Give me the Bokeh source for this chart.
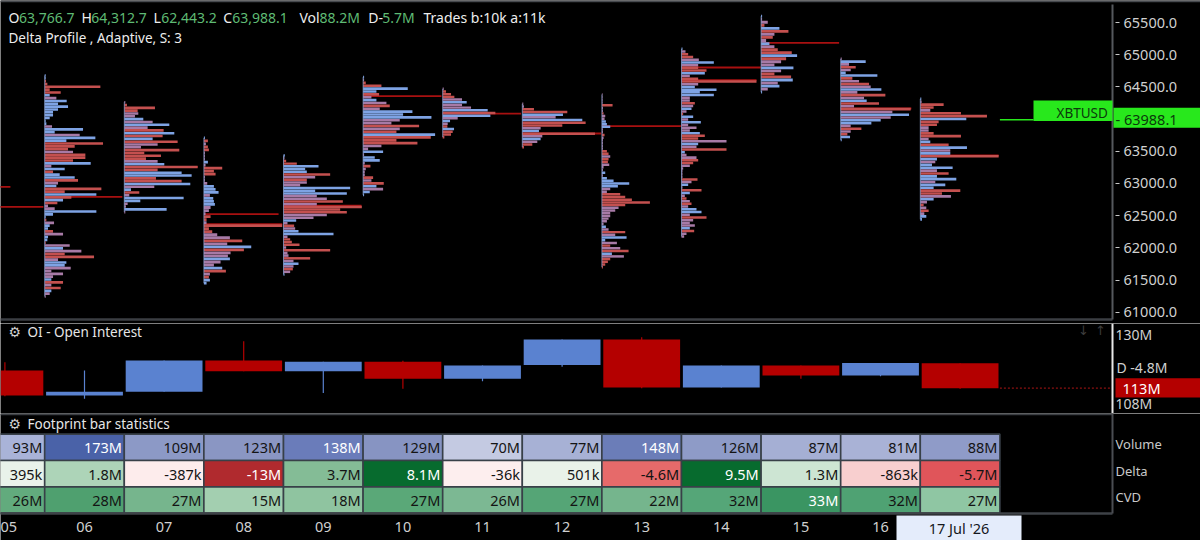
from bokeh.embed import file_html
from bokeh.resources import INLINE
from bokeh.layouts import column
from bokeh.models import (BoxAnnotation, ColumnDataSource, FixedTicker, Label, LinearAxis,
                          NumeralTickFormatter, Range1d)
from bokeh.plotting import figure
from bokeh.core.properties import value

FONT = "Noto Sans"
BG = "#000000"
PANE = "#3b3e43"
RED_S, BLUE_S, MIX_S = "#c4504f", "#7ea3e4", "#a77aa6"
OI_RED, OI_BLUE = "#b40000", "#5a82d0"
POC = "#a81010"
GREEN = "#28e81c"

# ---------- data ----------
days = [5, 6, 7, 8, 9, 10, 11, 12, 13, 14, 15, 16, 17]
day_labels = {5: "05", 6: "06", 7: "07", 8: "08", 9: "09", 10: "10", 11: "11", 12: "12",
              13: "13", 14: "14", 15: "15", 16: "16"}
price_ticks = [61000, 61500, 62000, 62500, 63000, 63500, 64500, 65000, 65500]
last_price = 63988.1

# Per-session profile: high, low, volume per price row (top to bottom), side of each row
high_06, low_06 = 64677, 61244
vol_06 = [3, 3, 4, 8, 167, 15, 48, 15, 35, 66, 40, 70, 40, 25, 25, 15, 3, 5, 22, 115, 30, 105, 152, 65, 175, 90,
          70, 85, 122, 122, 85, 138, 20, 60, 25, 45, 90, 100, 40, 35, 170, 60, 155, 80, 55, 38, 10, 30, 155, 25,
          3, 5, 28, 15, 10, 25, 55, 10, 8, 3, 75, 55, 110, 60, 148, 40, 65, 60, 78, 20, 55, 25, 20, 55, 20, 48, 20, 15, 3]
side_06 = "BBSSSSSBMBBBBBBBBBMBBMBBSSSMSSSBMBSBBSMBSSBSBSMMBBBSMBBSMBBSMBMSSMBBMMMMBSMSB"
high_07, low_07 = 64262, 62554
vol_07 = [3, 8, 92, 40, 42, 32, 57, 85, 135, 70, 118, 150, 115, 85, 160, 100, 50, 165, 60, 110, 65, 100, 120, 220,
          100, 172, 202, 95, 172, 198, 90, 20, 45, 15, 178, 48, 10, 5, 127, 3]
side_07 = "MSSSMMBMBMSBSBSMMSSSSMBSSBBSSBMBSMBBMMBM"
high_08, low_08 = 63708, 61451
vol_08 = [3, 12, 6, 12, 15, 3, 3, 3, 12, 5, 55, 30, 35, 3, 3, 10, 30, 35, 44, 18, 28, 30, 33, 20, 15, 5, 20, 8, 8, 235,
          15, 25, 40, 78, 115, 70, 142, 120, 80, 72, 78, 50, 30, 55, 66, 18, 15, 18, 8]
side_08 = "BSMSSMMMBMSSSMMMBBBMBBBMMMSSMSSSMMSMBSMMBMMBSMSBB"
high_09, low_09 = 63434, 61585
vol_09 = [4, 3, 8, 40, 105, 65, 70, 140, 95, 70, 70, 50, 200, 95, 190, 100, 130, 178, 100, 235, 170, 190, 130, 90, 38, 12,
          32, 35, 45, 150, 12, 20, 25, 48, 8, 140, 12, 15, 80, 30, 45, 30, 28, 20, 3]
side_09 = "BMSSBBBSMSMMBBBMMSMSSSMMBMSMBBMSSSMSMMSMBMSMB"
high_10, low_10 = 64651, 62823
vol_10 = [3, 3, 8, 55, 134, 40, 48, 25, 40, 70, 80, 50, 148, 120, 205, 110, 85, 168, 110, 100, 216, 203, 100, 163, 55,
          15, 60, 3, 35, 50, 5, 22, 8, 5, 5, 30, 25, 62, 40, 60, 20, 3]
side_10 = "BMSSBBSMBMSMBBBMMSMSBSSSMMBMBBMSMMMSMSBMBB"
high_11, low_11 = 64470, 63719
vol_11 = [3, 10, 25, 35, 58, 72, 58, 85, 135, 158, 143, 45, 22, 15, 14, 34, 30, 25, 5]
side_11 = "MSSSMBMMBSBMBMSBSSS"
high_12, low_12 = 64237, 63563
vol_12 = [3, 5, 35, 135, 122, 100, 180, 190, 120, 55, 50, 218, 60, 55, 45, 30, 5]
side_12 = "MMSSBMBSSMBSMBMSS"
high_13, low_13 = 64382, 61699
vol_13 = [2, 2, 2, 2, 32, 3, 3, 5, 10, 8, 12, 15, 25, 3, 3, 8, 5, 3, 3, 3, 3, 15, 20, 25, 20, 18, 22, 5, 3, 10, 3, 15, 35,
          82, 48, 25, 15, 55, 70, 90, 144, 70, 50, 40, 25, 25, 20, 15, 5, 12, 20, 70, 40, 74, 10, 45, 25, 55, 80, 30, 66, 25, 18, 10, 3]
side_13 = "MMMMSMMSMMBBBMMSMMMMMSSMSSMMMBMBBBBMMSSSSSMMMMMMMBMSMBBMSMSBMSSSS"
high_14, low_14 = 65091, 62176
vol_14 = [3, 12, 20, 35, 52, 97, 50, 50, 75, 70, 25, 50, 225, 50, 40, 105, 55, 97, 25, 25, 40, 35, 30, 15, 5, 35, 20, 58, 20,
          45, 25, 55, 70, 50, 135, 50, 45, 135, 10, 15, 45, 50, 35, 25, 5, 3, 3, 3, 48, 30, 20, 3, 60, 25, 10, 15, 25, 30, 20, 45, 60,
          25, 75, 35, 25, 40, 25, 38, 15, 8]
side_14 = "BMSSMBMSSBMSSMBBBBMMSMBMSBMBMMMBSSMBMSBMMSSMMMMMSMBMSBMSMSMBBMSMMMBSMM"
high_15, low_15 = 65598, 64418
vol_15 = [3, 3, 20, 10, 55, 82, 40, 35, 15, 25, 40, 50, 92, 108, 75, 60, 40, 97, 60, 40, 90, 95, 50, 55, 20, 3]
side_15 = "BMMSBSMSMBMSSBSMMBMSSBMBMB"
high_16, low_16 = 64936, 63677
vol_16 = [3, 75, 25, 45, 30, 15, 110, 35, 55, 85, 90, 122, 50, 134, 70, 78, 115, 40, 210, 155, 205, 150, 120, 92, 30, 62, 30,
          20, 28, 3]
side_16 = "MBMSMBBSMSMBMSMBSMSMBMBBMSMSBB"
high_17, low_17 = 64313, 62443
vol_17 = [3, 4, 70, 40, 30, 122, 200, 138, 55, 50, 25, 25, 40, 122, 25, 30, 85, 140, 90, 90, 235, 50, 45, 35, 97, 50, 85, 50,
          108, 45, 75, 40, 120, 65, 92, 40, 20, 10, 18, 25, 12, 18, 5]
side_17 = "BMSSMSSBSSMMSSMBSBMBSBMBBMSBBMBBSSMBMSMSMBB"

# Point-of-control prices of each session and how far the level runs (in volume-row units)
poc_day = [5, 5, 6, 7, 8, 8, 9, 10, 11, 12, 13, 14, 14, 15, 16, 17]
poc_price = [62636, 62947, 62792, 63258, 62523, 62367, 62657, 64356, 64086, 63776, 63890, 64801, 64604, 65184, 64164, 63434]
poc_vol = [235, 136, 233, 220, 224, 235, 234, 235, 235, 237, 237, 238, 225, 234, 212, 235]

# Open Interest candles (millions)
oi_open = [118.5, 110.5, 111.7, 121.7, 118.2, 121.3, 115.8, 120.2, 128.4, 113.0, 120.1, 116.9, 120.8]
oi_close = [110.5, 111.7, 121.7, 118.2, 121.3, 115.8, 120.1, 128.4, 113.0, 120.1, 116.9, 120.9, 112.8]
oi_high = [121.1, 118.5, 121.7, 127.8, 121.3, 121.6, 120.1, 128.4, 129.1, 120.1, 120.1, 120.9, 120.8]
oi_low = [110.2, 109.4, 111.7, 118.2, 111.3, 112.6, 115.0, 119.7, 112.8, 113.0, 115.8, 116.6, 112.6]
oi_ticks = {108: "108M", 130: "130M"}

# Footprint bar statistics
volume_text = ["93M", "173M", "109M", "123M", "138M", "129M", "70M", "77M", "148M", "126M", "87M", "81M", "88M"]
delta_text = ["395k", "1.8M", "-387k", "-13M", "3.7M", "8.1M", "-36k", "501k", "-4.6M", "9.5M", "1.3M", "-863k", "-5.7M"]
cvd_text = ["26M", "28M", "27M", "15M", "18M", "27M", "26M", "27M", "22M", "32M", "33M", "32M", "27M"]
volume_fill = ["#a9b3d8", "#4a62a8", "#8c99c6", "#8a96c3", "#6a7cba", "#8794c2", "#c4cae2", "#a7b1d5", "#6b7db8", "#8e9bc7",
               "#a5afd4", "#a9b2d6", "#8f9bc8"]
delta_fill = ["#e9f2ea", "#add4b8", "#fdecec", "#b02a2e", "#84bc96", "#076b2e", "#fdeeee", "#e9f2e9", "#e66a6a", "#076b2e",
              "#cde5d3", "#f8cfcf", "#e0555a"]
cvd_fill = ["#62ab7d", "#4fa06f", "#76b58d", "#a3cfb0", "#8fc4a0", "#5aa878", "#7cb893", "#55a576", "#75b58d", "#55a678",
            "#3a9562", "#4fa273", "#8fc6a3"]
white_text = {"173M", "138M", "148M", "-13M", "8.1M", "9.5M", "33M"}

# ---------- geometry of the panes (in photograph pixels) ----------
W, RIGHT_PX = 1200, 1112
SEP1, SEP2, SEP3 = 319, 413, 513
CANVAS1, CANVAS2, CANVAS3 = 323, 413, 540
PX_PER_DAY, PX_DAY6 = 79.6, 84


def X(px):
    return 6 + (px - PX_DAY6) / PX_PER_DAY


def Y1(py):
    return 65500 - (py - 22) / 0.06438


def Y2(py):
    return 130 - (py - 334) / 3.123


def Y3(py):
    return 2 - (py - 446.8) / 26.35


x_range = Range1d(X(0), X(W))
LEVEL_PER_DAY = 238.8


def make_fig(h, yr):
    f = figure(width=W, height=h, x_range=x_range, y_range=yr, output_backend="svg", toolbar_location=None,
               background_fill_color=BG, border_fill_color=BG, outline_line_color=None,
               min_border=0, x_axis_location=None, y_axis_location=None)
    f.xgrid.visible = False
    f.ygrid.visible = False
    return f


def right_axis(f, ticks, line_color, bounds, overrides=None, fmt=None, size="14.5px", color="#d0d0d0",
               standoff=4, tick_out=0):
    a = LinearAxis(ticker=FixedTicker(ticks=ticks), fixed_location=X(RIGHT_PX), bounds=bounds,
                   axis_line_color=line_color, axis_line_width=2,
                   major_tick_line_color=None, minor_tick_line_color=None, major_label_text_color=color,
                   major_label_text_font=FONT, major_label_text_font_size=size, major_label_standoff=standoff,
                   major_tick_out=tick_out, major_tick_in=0)
    if overrides:
        a.major_label_overrides = overrides
    if fmt:
        a.formatter = fmt
    f.add_layout(a, "right")
    return a


def tlabel(f, x, y, text, color="#e6e6e6", size="13.5px", font=FONT, **kw):
    f.add_layout(Label(x=x, y=y, text=text, text_color=color, text_font_size=size, text_font=font,
                       text_baseline="middle", text_align=kw.pop("align", "left"), **kw))


def box(f, l, r, t, b, colour):
    f.add_layout(BoxAnnotation(left=l, right=r, top=t, bottom=b, fill_color=colour, fill_alpha=1, line_color=None))


# ---------- main pane ----------
main = make_fig(CANVAS1, Range1d(Y1(CANVAS1), Y1(0)))
ax1 = right_axis(main, price_ticks, "#55585d", (Y1(SEP1), Y1(4)), fmt=NumeralTickFormatter(format="0.0"), tick_out=7)
ax1.major_tick_line_color = "#c8c8c8"
ax1.major_tick_in = -3
main.segment(x0=[X(0)], x1=[X(RIGHT_PX)], y0=[Y1(SEP1)], y1=[Y1(SEP1)], line_color=PANE, line_width=2.5)
main.segment(x0=[X(0)], x1=[X(W)], y0=[Y1(0.8)], y1=[Y1(0.8)], line_color="#46494e", line_width=2)

sessions = [(6, high_06, low_06, vol_06, side_06), (7, high_07, low_07, vol_07, side_07),
            (8, high_08, low_08, vol_08, side_08), (9, high_09, low_09, vol_09, side_09),
            (10, high_10, low_10, vol_10, side_10), (11, high_11, low_11, vol_11, side_11),
            (12, high_12, low_12, vol_12, side_12), (13, high_13, low_13, vol_13, side_13),
            (14, high_14, low_14, vol_14, side_14), (15, high_15, low_15, vol_15, side_15),
            (16, high_16, low_16, vol_16, side_16), (17, high_17, low_17, vol_17, side_17)]
side_colour = {"S": RED_S, "B": BLUE_S, "M": MIX_S}

main.segment(x0=[d - 0.5 for d in poc_day], x1=[d - 0.5 + v / LEVEL_PER_DAY for d, v in zip(poc_day, poc_vol)],
             y0=poc_price, y1=poc_price, line_color=POC, line_width=1.8)

left, right, ys, heights, colours = [], [], [], [], []
for d, hi, lo, vol, side in sessions:
    step = (hi - lo) / (len(vol) - 1)
    side = side.ljust(len(vol), "M")
    for i, v in enumerate(vol):
        left.append(d - 0.5)
        right.append(d - 0.5 + v / LEVEL_PER_DAY)
        ys.append(hi - i * step)
        heights.append(step * 0.92)
        colours.append(side_colour[side[i]])
main.hbar(y="y", left="l", right="r", height="h", fill_color="c", line_color=None,
          source=ColumnDataSource(dict(y=ys, l=left, r=right, h=heights, c=colours)))

for d, hi, lo, vol, side in sessions:
    main.segment(x0=[d - 0.5], x1=[d - 0.5], y0=[hi], y1=[lo], line_color="#8fa8d8", line_width=1, line_alpha=0.7)

# last price marker
box(main, X(1033), X(RIGHT_PX), Y1(100), Y1(120.5), GREEN)
box(main, X(RIGHT_PX + 1), X(W), Y1(107.3), Y1(127.3), GREEN)
main.segment(x0=[17.5], x1=[X(1033)], y0=[last_price], y1=[last_price], line_color=GREEN, line_width=1.5)
tlabel(main, X(1056), Y1(112), "XBTUSD", color="#0b3a0b", size="13.5px")
tlabel(main, X(1115), Y1(118.5), "- 63988.1", color="#0b3a0b", size="14.5px")

# header
g = "#5fbb74"
for px, txt, col in [(8, "O", "#ededed"), (18.5, "63,766.7", g), (81, "H", "#ededed"), (90.7, "64,312.7", g),
                     (153, "L", "#ededed"), (160.7, "62,443.2", g), (222.7, "C", "#ededed"), (231.7, "63,988.1", g),
                     (299, "Vol", "#ededed"), (319, "88.2M", g), (367.7, "D-", "#ededed"), (381.7, "5.7M", g),
                     (423, "Trades b:10k a:11k", "#ededed")]:
    tlabel(main, X(px), Y1(17), txt, color=col, size="14px")
tlabel(main, X(8), Y1(37), "Delta Profile , Adaptive, S: 3", color="#ededed", size="13.5px")

# ---------- open interest pane ----------
oi = make_fig(CANVAS2 - CANVAS1, Range1d(Y2(CANVAS2), Y2(CANVAS1)))
right_axis(oi, list(oi_ticks), "#e8e8e8", (Y2(CANVAS2), Y2(CANVAS1)), overrides=oi_ticks, size="14px", standoff=3)
oi_col = [OI_RED if c < o else OI_BLUE for o, c in zip(oi_open, oi_close)]
oi.segment(x0=days, x1=days, y0=oi_low, y1=oi_high, line_color=oi_col, line_width=1.2)
oi.vbar(x=days, width=0.965, bottom=[min(a, b) for a, b in zip(oi_open, oi_close)],
        top=[max(a, b) for a, b in zip(oi_open, oi_close)], fill_color=oi_col, line_color=None)
oi.segment(x0=[17.5], x1=[X(RIGHT_PX)], y0=[oi_close[-1]], y1=[oi_close[-1]], line_color="#8a1010", line_width=1.3,
           line_dash="2 2")
tlabel(oi, X(8), Y2(331), "\u2699", color="#cfcfcf", size="14px", font="DejaVu Sans")
tlabel(oi, X(27), Y2(331), "OI - Open Interest", color="#e6e6e6", size="13.5px")
tlabel(oi, X(1083), Y2(330), "\u2193", color="#3c3c3c", size="13px", font="DejaVu Sans", align="center")
tlabel(oi, X(1100), Y2(330), "\u2191", color="#3c3c3c", size="13px", font="DejaVu Sans", align="center")
tlabel(oi, X(1116), Y2(367), "D -4.8M", color="#d0d0d0", size="14px")
box(oi, X(1115), X(W), Y2(377.7), Y2(397), OI_RED)
tlabel(oi, X(1122), Y2(387), "113M", color="#ffffff", size="14.5px")

# ---------- statistics pane ----------
stats = make_fig(CANVAS3 - CANVAS2, Range1d(Y3(CANVAS3), Y3(CANVAS2)))
right_axis(stats, [0.11, 1.11, 2.11], "#4a4d52", (Y3(SEP3), Y3(SEP2)),
           overrides={0.11: "CVD", 1.11: "Delta", 2.11: "Volume"}, size="13px", color="#c8c8c8", standoff=3)
xax = LinearAxis(ticker=FixedTicker(ticks=days[:-1]), major_label_overrides=day_labels, fixed_location=Y3(SEP3),
                 bounds=(X(0), X(RIGHT_PX)), axis_line_color="#3e4247",
                 axis_line_width=2.5, major_tick_line_color=None, minor_tick_line_color=None, major_label_standoff=8,
                 major_tick_out=0, major_label_text_color="#d0d0d0", major_label_text_font=FONT,
                 major_label_text_font_size="14.5px")
stats.add_layout(xax, "below")
stats.segment(x0=[X(0)], x1=[X(RIGHT_PX)], y0=[Y3(SEP2 + 0.5)], y1=[Y3(SEP2 + 0.5)], line_color=PANE, line_width=2.5)

tlabel(stats, X(8), Y3(423), "\u2699", color="#cfcfcf", size="14px", font="DejaVu Sans")
tlabel(stats, X(27), Y3(423), "Footprint bar statistics", color="#e6e6e6", size="13.5px")
for row, texts, fills in [(2, volume_text, volume_fill), (1, delta_text, delta_fill), (0, cvd_text, cvd_fill)]:
    stats.rect(x=days, y=[row] * len(days), width=1, height=1, fill_color=fills, line_color="#384048", line_width=1.6)
    stats.text(x=[d + 0.47 for d in days], y=[row] * len(days), text=texts,
               text_color=["#ffffff" if t in white_text else "#141414" for t in texts], text_align="right",
               text_baseline="middle", text_font=value(FONT), text_font_size="14.5px")
box(stats, X(896), X(1021), Y3(515), Y3(CANVAS3), "#e4ecfb")
tlabel(stats, X(958.5), Y3(527), "17 Jul '26", color="#15171c", size="14.5px", align="center")

page = column(main, oi, stats, spacing=0)
open("out.html", "w").write(file_html(page, INLINE))
